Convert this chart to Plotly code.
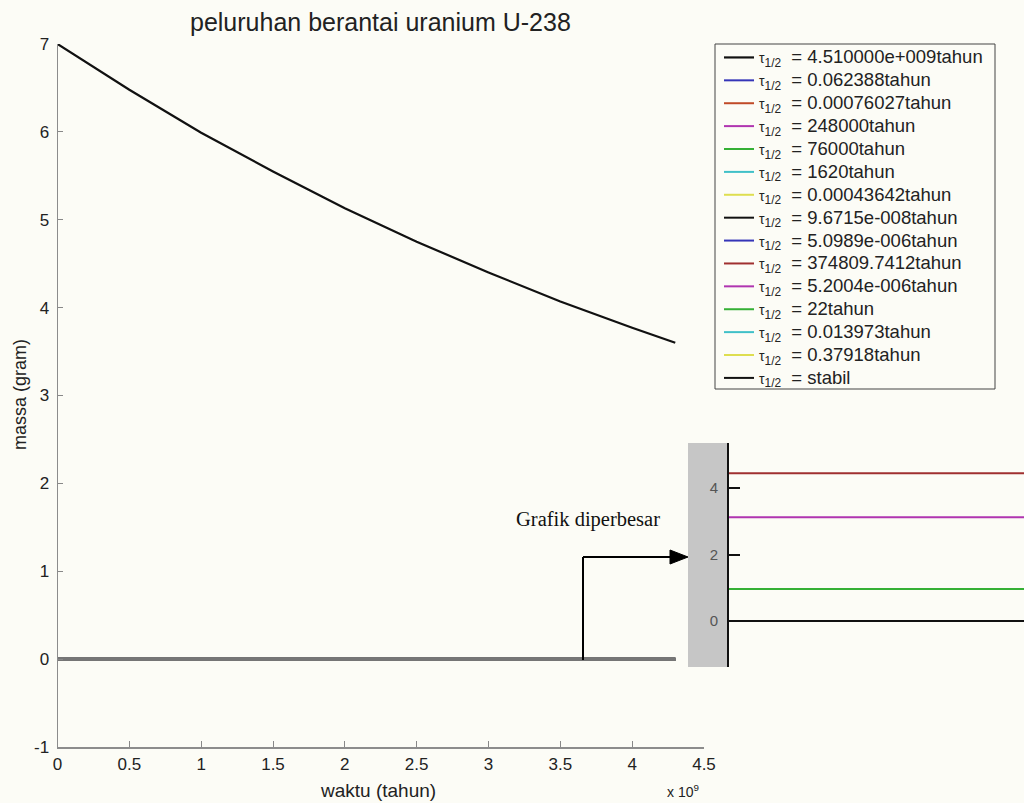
import plotly.graph_objects as go

# ---------------- data ----------------
waktu_tahun = [0, 0.5e9, 1.0e9, 1.5e9, 2.0e9, 2.5e9, 3.0e9, 3.5e9, 4.0e9, 4.3e9]
massa_U238 = [7.00, 6.48, 5.99, 5.55, 5.13, 4.75, 4.40, 4.07, 3.77, 3.60]

waktu_paruh = ["4.510000e+009", "0.062388", "0.00076027", "248000", "76000", "1620",
               "0.00043642", "9.6715e-008", "5.0989e-006", "374809.7412", "5.2004e-006",
               "22", "0.013973", "0.37918", "stabil"]
warna = ["#111111", "#3535b8", "#c04a28", "#b035b0", "#35b035", "#40c0c8", "#dede50",
         "#111111", "#3535b8", "#a03030", "#b035b0", "#35b035", "#40c0c8", "#dede50",
         "#111111"]

# daughter nuclides on the main (gram) scale: all ~0
massa_anak = [0.0] * 14
# daughter nuclides in the enlarged inset (zoomed units)
massa_anak_perbesar = [0.0, 0.0, 3.12, 0.96, 0.0, 0.0, 0.0, 0.0, 4.44, 0.0, 0.0, 0.0, 0.0, 0.0]

x_tick_vals = [0, 0.5e9, 1.0e9, 1.5e9, 2.0e9, 2.5e9, 3.0e9, 3.5e9, 4.0e9, 4.5e9]
x_tick_text = ["0", "0.5", "1", "1.5", "2", "2.5", "3", "3.5", "4", "4.5"]
y_tick_vals = [-1, 0, 1, 2, 3, 4, 5, 6, 7]
y_tick_text = ["-1", "0", "1", "2", "3", "4", "5", "6", "7"]
inset_tick_vals = [0, 2, 4]

# ---------------- layout helpers ----------------
W, H = 1024, 803
def px(x):
    return x / W
def py(y):
    return 1 - y / H

FONT = "Liberation Sans, Arial, sans-serif"
BG = "#fcfcf6"

def legend_name(hl):
    val = hl if hl == "stabil" else hl + "tahun"
    return ("<span style='font-size:14px'>τ</span>"
            "<span style='font-size:17px'><sub>1/2</sub></span>"
            "<span style='font-size:18.5px'>\u00a0\u00a0= " + val + "</span>")

fig = go.Figure()

# U-238 (main curve)
fig.add_trace(go.Scatter(x=waktu_tahun, y=massa_U238, mode="lines",
                         line=dict(color=warna[0], width=2.2),
                         name=legend_name(waktu_paruh[0]), xaxis="x", yaxis="y"))

# daughters on main axes (overlapping near zero)
for i, m in enumerate(massa_anak):
    fig.add_trace(go.Scatter(x=waktu_tahun, y=[m] * len(waktu_tahun), mode="lines",
                             line=dict(color="#767676", width=3), showlegend=False,
                             hoverinfo="skip", xaxis="x", yaxis="y"))

# daughters in enlarged inset (these carry the legend entries)
for i, m in enumerate(massa_anak_perbesar):
    fig.add_trace(go.Scatter(x=waktu_tahun, y=[m] * len(waktu_tahun), mode="lines",
                             line=dict(color=warna[i + 1], width=2),
                             name=legend_name(waktu_paruh[i + 1]),
                             xaxis="x2", yaxis="y2"))

shapes = [
    # legend frame
    dict(type="rect", xref="paper", yref="paper", x0=px(715), x1=px(995),
         y0=py(389), y1=py(44), fillcolor=BG, line=dict(color="#444", width=1),
         layer="below"),
    # grey strip of the enlarged inset
    dict(type="rect", xref="paper", yref="paper", x0=px(688), x1=px(728),
         y0=py(667), y1=py(443), fillcolor="#c6c6c6", line=dict(width=0), layer="below"),
    # connector lines
    dict(type="line", xref="paper", yref="paper", x0=px(583), x1=px(583),
         y0=py(660), y1=py(557), line=dict(color="black", width=2)),
    dict(type="line", xref="paper", yref="paper", x0=px(583), x1=px(672),
         y0=py(557), y1=py(557), line=dict(color="black", width=2)),
    dict(type="path", xref="paper", yref="paper",
         path=f"M {px(670)} {py(550)} L {px(688)} {py(557)} L {px(670)} {py(564)} Z",
         fillcolor="black", line=dict(color="black", width=1)),
]

annotations = [
    dict(text="peluruhan berantai uranium U-238", x=px(380), y=py(22), xref="paper",
         yref="paper", showarrow=False, xanchor="center", yanchor="middle",
         font=dict(family=FONT, size=25, color="#222")),
    dict(text="waktu (tahun)", x=px(378), y=py(790), xref="paper", yref="paper",
         showarrow=False, xanchor="center", yanchor="middle",
         font=dict(family=FONT, size=19, color="#222")),
    dict(text="massa (gram)", x=px(20), y=py(395), xref="paper", yref="paper",
         showarrow=False, xanchor="center", yanchor="middle", textangle=-90,
         font=dict(family=FONT, size=18, color="#222")),
    dict(text="x 10<sup>9</sup>", x=px(683), y=py(791), xref="paper", yref="paper",
         showarrow=False, xanchor="center", yanchor="middle",
         font=dict(family=FONT, size=14, color="#222")),
    dict(text="Grafik diperbesar", x=px(662), y=py(519), xref="paper", yref="paper",
         showarrow=False, xanchor="right", yanchor="middle",
         font=dict(family="Liberation Serif, Times New Roman, serif", size=20.5, color="#111")),
]

fig.update_layout(
    width=W, height=H,
    margin=dict(l=0, r=0, t=0, b=0, autoexpand=False),
    paper_bgcolor=BG, plot_bgcolor="rgba(0,0,0,0)",
    showlegend=True,
    legend=dict(x=px(719), y=py(41), xanchor="left", yanchor="top",
                bgcolor="rgba(0,0,0,0)", borderwidth=0,
                font=dict(family=FONT, size=15.3, color="#222"),
                traceorder="normal"),
    xaxis=dict(domain=[px(57.5), px(704)], range=[0, 4.5e9], tickvals=x_tick_vals,
               ticktext=x_tick_text, ticks="inside", ticklen=6, tickcolor="#888",
               tickwidth=1, showline=True, linecolor="#8c8c8c", linewidth=2,
               showgrid=False, zeroline=False, anchor="y", ticklabelstandoff=1,
               automargin=False,
               tickfont=dict(family=FONT, size=17, color="#222")),
    yaxis=dict(domain=[py(747), py(44)], range=[-1, 7], tickvals=y_tick_vals,
               ticktext=y_tick_text,
               ticks="inside", ticklen=5, tickcolor="#888", tickwidth=1,
               showline=True, linecolor="#8c8c8c", linewidth=1, showgrid=False,
               zeroline=False, anchor="x", ticklabelstandoff=4, automargin=False,
               tickfont=dict(family=FONT, size=17, color="#222")),
    xaxis2=dict(domain=[px(729), 1], range=[0, 4.3e9], visible=False, anchor="y2",
                automargin=False),
    yaxis2=dict(domain=[py(667), py(443)], range=[-1.38, 5.35], tickvals=inset_tick_vals,
                ticks="inside", ticklen=11, tickcolor="#111", tickwidth=2,
                showline=True, linecolor="#111", linewidth=2, showgrid=False,
                zeroline=False, anchor="x2", ticklabelstandoff=6, automargin=False,
                tickfont=dict(family=FONT, size=15, color="#555")),
    shapes=shapes,
    annotations=annotations,
)

fig.write_html("out.html", config={"displayModeBar": False},
               post_script="document.body.style.margin='0';")
